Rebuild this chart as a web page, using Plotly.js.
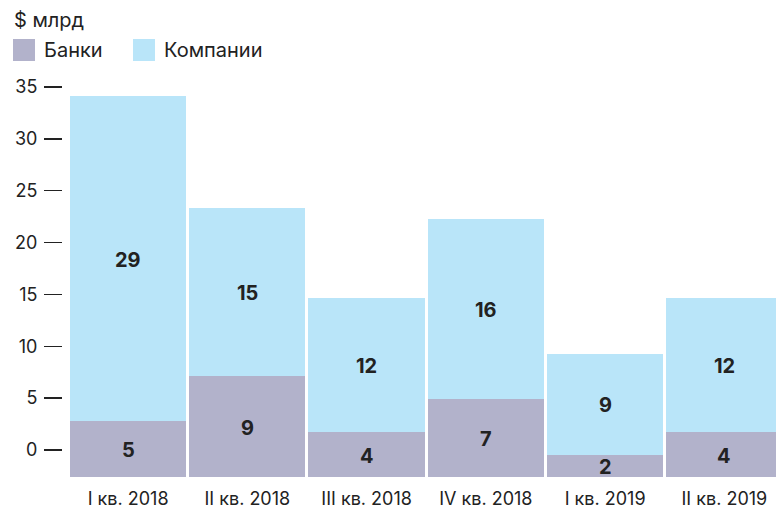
<!DOCTYPE html>
<html>
<head>
<meta charset="utf-8">
<script src="https://cdn.plot.ly/plotly-3.0.1.min.js"></script>
<style>html,body{margin:0;padding:0;background:#fff;}#chart{width:776px;height:509px;}</style>
</head>
<body>
<div id="chart"></div>
<script>
const categories = ['I кв. 2018', 'II кв. 2018', 'III кв. 2018', 'IV кв. 2018', 'I кв. 2019', 'II кв. 2019'];
const banks = [5, 9, 4, 7, 2, 4];
const companies = [29, 15, 12, 16, 9, 12];
const seriesNames = ['Банки', 'Компании'];
const seriesColors = ['#b2b2cb', '#b9e5f9'];
const yTicks = [0, 5, 10, 15, 20, 25, 30, 35];
const unitLabel = '$ млрд';

const W = 776, H = 509;
const M = {l: 62, r: 0, t: 80, b: 32};
const PW = W - M.l - M.r, PH = H - M.t - M.b;
const px = x => (x - M.l) / PW;
const py = y => 1 - (y - M.t) / PH;
const FONT = 'Inter, Roboto, "DejaVu Sans", sans-serif';
const TXT = '#222222';
const labelFont = {family: FONT, size: 20, color: TXT, weight: 700};

const traces = [
  {type: 'bar', name: seriesNames[0], x: categories, y: banks, marker: {color: seriesColors[0], line: {width: 0}}, showlegend: false, hoverinfo: 'x+y'},
  {type: 'bar', name: seriesNames[1], x: categories, y: companies, marker: {color: seriesColors[1], line: {width: 0}}, showlegend: false, hoverinfo: 'x+y'},
  {type: 'scatter', mode: 'markers', x: [], y: [], xaxis: 'x', yaxis: 'y2', showlegend: false, hoverinfo: 'skip'}
];

const shapes = [], annotations = [];
const legendX = [13, 133];
seriesNames.forEach((n, i) => {
  shapes.push({type: 'rect', xref: 'paper', yref: 'paper', x0: px(legendX[i]), x1: px(legendX[i] + 22), y0: py(61), y1: py(39), fillcolor: seriesColors[i], line: {width: 0}});
  annotations.push({xref: 'paper', yref: 'paper', x: px(legendX[i] + 29), y: py(50), xanchor: 'left', yanchor: 'middle', showarrow: false, text: n, font: {family: FONT, size: 20, color: TXT}});
});
annotations.push({xref: 'paper', yref: 'paper', x: px(12), y: py(20), xanchor: 'left', yanchor: 'middle', showarrow: false, text: unitLabel, font: {family: FONT, size: 20, color: TXT}});
categories.forEach((c, i) => {
  annotations.push({xref: 'x', yref: 'y', x: c, y: banks[i] / 2, text: String(banks[i]), showarrow: false, xanchor: 'center', yanchor: 'middle', yshift: -1, font: labelFont});
  annotations.push({xref: 'x', yref: 'y', x: c, y: banks[i] + companies[i] / 2, text: String(companies[i]), showarrow: false, xanchor: 'center', yanchor: 'middle', yshift: -1, font: labelFont});
});

const layout = {
  width: W, height: H, margin: M, paper_bgcolor: '#fff', plot_bgcolor: 'rgba(0,0,0,0)',
  barmode: 'stack', bargap: 0.025, showlegend: false,
  font: {family: FONT, color: TXT, size: 18},
  xaxis: {domain: [8 / PW, 1], range: [-0.487, 5.433], showgrid: false, zeroline: false, showline: false, ticks: '', tickfont: {family: FONT, size: 18, color: TXT}, ticklabelstandoff: 9, fixedrange: true},
  yaxis: {anchor: 'x', range: [0, PH / 11.2], visible: false, showgrid: false, zeroline: false, fixedrange: true},
  yaxis2: {overlaying: 'y', anchor: 'free', position: 0, side: 'left', range: [-2.603, 35.676], tickvals: yTicks, ticktext: yTicks.map(String), ticks: 'outside', ticklen: 18, tickwidth: 1.5, tickcolor: TXT, showgrid: false, zeroline: false, showline: false, tickfont: {family: FONT, size: 18, color: TXT}, ticklabelstandoff: 3, fixedrange: true},
  shapes: shapes, annotations: annotations
};
Plotly.newPlot('chart', traces, layout, {displayModeBar: false, staticPlot: true});
</script>
</body>
</html>
